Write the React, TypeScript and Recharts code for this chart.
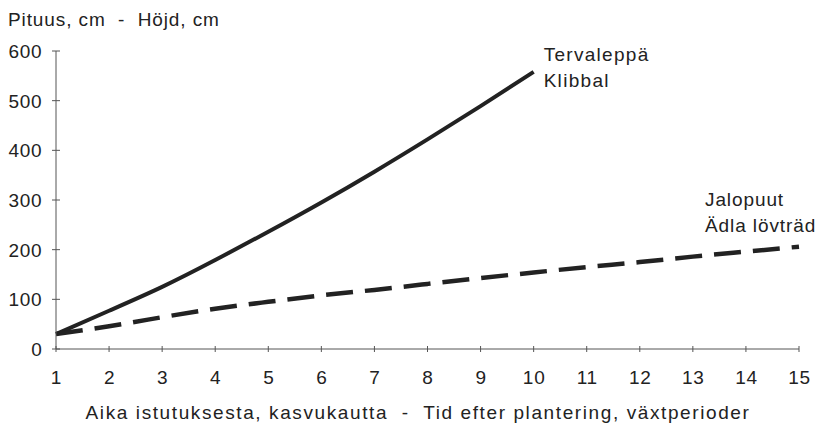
import { LineChart, Line, XAxis, YAxis, Label } from 'recharts'

const years = [1, 2, 3, 4, 5, 6, 7, 8, 9, 10, 11, 12, 13, 14, 15]
const tervaleppa = [30, 77, 125, 179, 236, 295, 357, 422, 489, 558]
const jalopuut = [30, 46, 64, 81, 95, 108, 119, 131, 143, 154, 165, 175, 186, 196, 206]
const yTicks = [0, 100, 200, 300, 400, 500, 600]

const yTitle = 'Pituus, cm  -  Höjd, cm'
const xTitle = 'Aika istutuksesta, kasvukautta  -  Tid efter plantering, växtperioder'
const tervaLabel = ['Tervaleppä', 'Klibbal']
const jaloLabel = ['Jalopuut', 'Ädla lövträd']

const data = years.map((year, i) => ({
  year,
  terva: i < tervaleppa.length ? tervaleppa[i] : null,
  jalo: jalopuut[i]
}))

const font = 'Liberation Sans, Arial, sans-serif'
const ink = '#222'

const XTick = ({ x, y, payload }: any) => (
  <g>
    <line x1={x} x2={x} y1={y - 3} y2={y + 3} stroke='#555' />
    <text x={x + 0.5} y={y + 35} textAnchor='middle' fontSize={19} letterSpacing={0.7} fill={ink} fontFamily={font}>
      {payload.value}
    </text>
  </g>
)

const YTick = ({ x, y, payload }: any) => (
  <g>
    <line x1={x - 4} x2={x + 4} y1={y} y2={y} stroke='#555' />
    <text x={x - 13.5} y={y + 7} textAnchor='end' fontSize={19} letterSpacing={0.8} fill={ink} fontFamily={font}>
      {payload.value}
    </text>
  </g>
)

const endLabel = (lines: string[], last: number, dx: number, dy: number, spacing: number) => (props: any) => {
  const { x, y, index } = props
  if (index !== last) return null
  return (
    <g>
      {lines.map((t, i) => (
        <text key={i} x={x + dx} y={y + dy + i * 26} fontSize={19} letterSpacing={spacing} fill={ink} fontFamily={font}>
          {t}
        </text>
      ))}
    </g>
  )
}

export default function App() {
  return (
    <div style={{ position: 'absolute', left: 0, top: 0, background: '#fff' }}>
      <LineChart width={826} height={426} data={data} margin={{ top: 51, right: 27, left: 0, bottom: 0 }}>
        <XAxis
          dataKey='year'
          type='number'
          domain={[1, 15]}
          ticks={years}
          interval={0}
          height={77}
          tickSize={0}
          tickMargin={0}
          tick={<XTick />}
          stroke='#555'
        >
          <Label
            content={() => (
              <text x={418} y={419} textAnchor='middle' fontSize={19} letterSpacing={1.6} fill={ink} fontFamily={font} style={{ whiteSpace: 'pre' }}>
                {xTitle}
              </text>
            )}
          />
        </XAxis>
        <YAxis
          type='number'
          domain={[0, 600]}
          ticks={yTicks}
          interval={0}
          width={56}
          tickSize={0}
          tickMargin={0}
          tick={<YTick />}
          stroke='#555'
        >
          <Label
            content={() => (
              <text x={8} y={26} fontSize={19} letterSpacing={0.9} fill={ink} fontFamily={font} style={{ whiteSpace: 'pre' }}>
                {yTitle}
              </text>
            )}
          />
        </YAxis>
        <Line
          dataKey='terva'
          stroke={ink}
          strokeWidth={4}
          dot={false}
          type='natural'
          isAnimationActive={false}
          label={endLabel(tervaLabel, tervaleppa.length - 1, 10, -11, 1.3)}
        />
        <Line
          dataKey='jalo'
          stroke={ink}
          strokeWidth={4.5}
          strokeDasharray='27 12'
          dot={false}
          type='natural'
          isAnimationActive={false}
          label={endLabel(jaloLabel, jalopuut.length - 1, -94, -41, 0.9)}
        />
      </LineChart>
    </div>
  )
}
